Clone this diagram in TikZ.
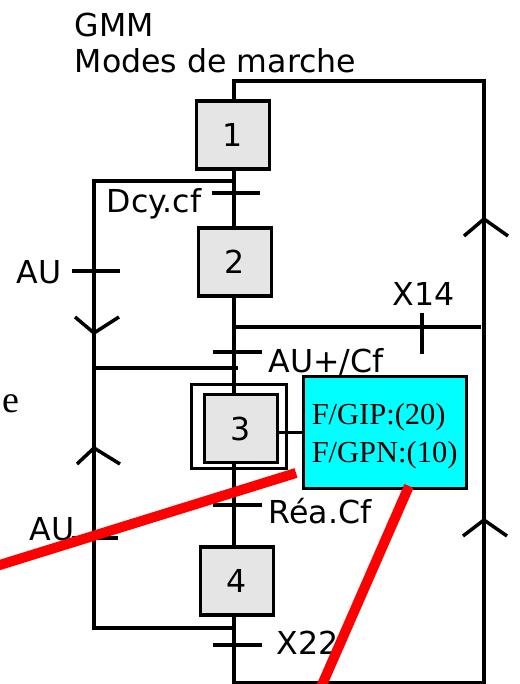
\documentclass[tikz,border=0pt]{standalone}
\usepackage{fontspec}
\setmainfont{DejaVu Sans}
\newfontfamily\seriffont{Liberation Serif}
\definecolor{stepgray}{RGB}{229,229,229}
\definecolor{actcyan}{RGB}{0,255,255}
\definecolor{redmark}{RGB}{255,0,0}
\begin{document}
\begin{tikzpicture}[x=1pt,y=-1pt,line width=3.5pt,
  big/.style={font=\fontsize{31.6}{37}\selectfont},
  stepbox/.style={draw,fill=stepgray,minimum width=73pt,minimum height=68pt,inner sep=0pt,big},
  lbl/.style={anchor=base west,inner sep=0pt,big},
  slbl/.style={anchor=base west,inner sep=0pt,font=\seriffont\fontsize{30.5}{36}\selectfont},
  redline/.style={draw=redmark,line width=10pt}]
\useasboundingbox (0,0) rectangle (519,684);

% titles
\node[lbl] (t1) at (73,37) {GMM};
\node[lbl] (t2) at (73,73) {Modes de marche};

% steps
\node[stepbox] (s1) at (233,135) {1};
\node[stepbox] (s2) at (235,262) {2};
\node[draw,line width=3pt,minimum width=95pt,minimum height=84pt,inner sep=0pt] (s3out) at (239,426.5) {};
\node[stepbox] (s3) at (241,428.5) {3};
\node[stepbox] (s4) at (237,581) {4};

% action box
\node[draw,fill=actcyan,minimum width=163pt,minimum height=112pt,inner sep=0pt] (act) at (385,432.5) {};
\node[slbl] (a1) at (310,424) {F/GIP:(20)};
\node[slbl] (a2) at (310,462) {F/GPN:(10)};
\draw (act.west -| s3.east) -- (act.west);

% main line coordinates
\coordinate (top) at (234,81);
\coordinate (rtop) at (484,81);
\coordinate (rbot) at (484,683);
\coordinate (bot) at (234,683);
\draw (s1.north -| top) -- (top) -- (rtop) -- (rbot) -- (bot) -- (bot |- s4.south);
\draw (s1.south -| top) -- (s2.north -| top);
\draw (s2.south -| top) -- (s3.north -| top);
\draw (s3.south -| top) -- (s4.north -| top);

% left loop
\coordinate (lb1) at (234,181);
\coordinate (l1) at (94,181);
\coordinate (l2) at (94,628);
\coordinate (lb2) at (234,628);
\draw (lb1) -- (l1) -- (l2) -- (lb2);
\coordinate (j1) at (94,368);
\coordinate (j2) at (238,368);
\draw (j1) -- (j2);

% X14 branch
\coordinate (x14a) at (234,327);
\coordinate (x14b) at (481,327);
\draw (x14a) -- (x14b);

% transitions
\coordinate (tr1) at (236,193);
\draw ([xshift=-24pt]tr1) -- ([xshift=24pt]tr1);
\coordinate (tr2) at (96,271);
\draw ([xshift=-24pt]tr2) -- ([xshift=24pt]tr2);
\coordinate (tr3) at (422,333.5);
\draw ([yshift=-20.5pt]tr3) -- ([yshift=20.5pt]tr3);
\coordinate (tr4) at (237.5,352);
\draw ([xshift=-24.5pt]tr4) -- ([xshift=24.5pt]tr4);
\coordinate (tr5) at (237.5,505);
\draw ([xshift=-24.5pt]tr5) -- ([xshift=24.5pt]tr5);
\coordinate (tr6) at (95,538);
\draw ([xshift=-23pt]tr6) -- ([xshift=23pt]tr6);
\coordinate (tr7) at (237.5,645);
\draw ([xshift=-24.5pt]tr7) -- ([xshift=24.5pt]tr7);

% transition labels
\node[lbl] (l_dcy) at (105,213) {Dcy.cf};
\node[lbl] (l_au1) at (15,283) {AU};
\node[lbl] (l_x14) at (391,305) {X14};
\node[lbl] (l_aucf) at (267,372) {AU+/Cf};
\node[lbl] (l_rea) at (267,523) {Réa.Cf};
\node[lbl] (l_au2) at (28,540) {AU};
\node[lbl] (l_x22) at (275,654) {X22};
\node[anchor=base west,inner sep=0pt,font=\seriffont\fontsize{38}{42}\selectfont] (l_e) at (0.5,412) {e};

% direction chevrons
\coordinate (c1) at (484,219);
\draw ([shift={(-20,17)}]c1) -- (c1) -- ([shift={(24,17)}]c1);
\coordinate (c2) at (484,520);
\draw ([shift={(-21,16)}]c2) -- (c2) -- ([shift={(23,16)}]c2);
\coordinate (c3) at (94,333);
\draw ([shift={(-19,-16)}]c3) -- (c3) -- ([shift={(25,-16)}]c3);
\coordinate (c4) at (94,448);
\draw ([shift={(-17,16)}]c4) -- (c4) -- ([shift={(26,16)}]c4);

% red strokes
\coordinate (r1a) at (-10,568);
\coordinate (r1b) at (296,473);
\draw[redline] (r1a) -- (r1b);
\coordinate (r2a) at (409,486);
\coordinate (r2b) at (318,694);
\draw[redline] (r2a) -- (r2b);
\end{tikzpicture}
\end{document}
